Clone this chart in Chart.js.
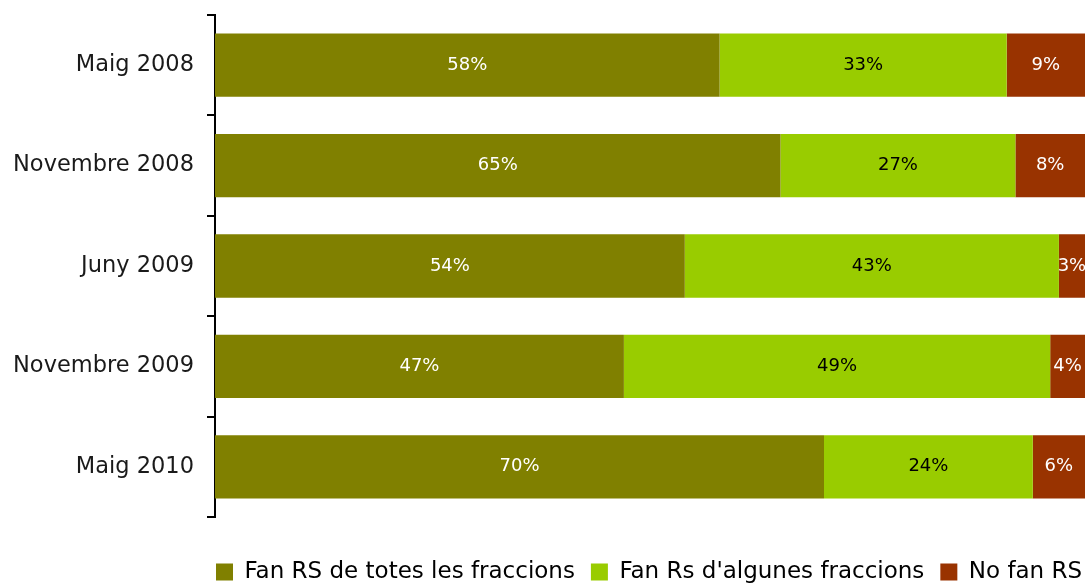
<!DOCTYPE html>
<html>
<head>
<meta charset="utf-8">
<script src="https://cdn.jsdelivr.net/npm/chart.js@4/dist/chart.umd.min.js"></script>
<style>
html,body{margin:0;padding:0;background:#fff;}
#wrap{width:1085px;height:584px;position:relative;}
</style>
</head>
<body>
<div id="wrap"><canvas id="c"></canvas></div>
<script>
const categories = ["Maig 2008", "Novembre 2008", "Juny 2009", "Novembre 2009", "Maig 2010"];
const seriesNames = ["Fan RS de totes les fraccions", "Fan Rs d'algunes fraccions", "No fan RS"];
const totes = [58, 65, 54, 47, 70];
const algunes = [33, 27, 43, 49, 24];
const noFan = [9, 8, 3, 4, 6];

const FONT = "'DejaVu Sans', sans-serif";
const LEGEND_PAD = 16;

const labelPlugin = {
  id: 'barLabels',
  afterDatasetsDraw(chart) {
    const ctx = chart.ctx;
    ctx.save();
    ctx.font = "18px " + FONT;
    ctx.textAlign = 'center';
    ctx.textBaseline = 'middle';
    chart.data.datasets.forEach((ds, i) => {
      const meta = chart.getDatasetMeta(i);
      meta.data.forEach((el, j) => {
        const p = el.getCenterPoint();
        ctx.fillStyle = ds.labelColor;
        ctx.fillText(ds.data[j] + '%', p.x, p.y);
      });
    });
    ctx.restore();
  }
};

// start the legend under the plot area (as in the original)
const legendAlignPlugin = {
  id: 'legendAlign',
  afterLayout(chart) {
    const lg = chart.legend;
    if (lg) {
      lg.left = chart.chartArea.left + 1 - LEGEND_PAD;
      lg.right = lg.left + lg.width;
    }
  }
};

new Chart(document.getElementById('c'), {
  type: 'bar',
  data: {
    labels: categories,
    datasets: [
      {label: seriesNames[0], data: totes, backgroundColor: '#808000', labelColor: '#ffffff'},
      {label: seriesNames[1], data: algunes, backgroundColor: '#99cc00', labelColor: '#000000'},
      {label: seriesNames[2], data: noFan, backgroundColor: '#993300', labelColor: '#ffffff'}
    ]
  },
  options: {
    indexAxis: 'y',
    responsive: true,
    maintainAspectRatio: false,
    animation: false,
    layout: {padding: {top: 15, right: 0, left: 0, bottom: -9.5}},
    datasets: {bar: {categoryPercentage: 1, barPercentage: 0.63, borderWidth: 0}},
    scales: {
      x: {
        stacked: true, min: 0, max: 100,
        display: true,
        ticks: {display: false},
        grid: {display: false},
        border: {display: false},
        afterFit(s) { s.height = 27.5; s.paddingLeft = 0; s.paddingRight = 0; }
      },
      y: {
        stacked: true,
        ticks: {color: '#1a1a1a', font: {family: FONT, size: 22.5}, padding: 13, autoSkip: false},
        grid: {drawOnChartArea: false, tickLength: 8, color: '#000', lineWidth: 2, offset: true},
        border: {display: true, color: '#000', width: 2},
        afterFit(s) { s.width = 215; s.paddingTop = 0; s.paddingBottom = 0; }
      }
    },
    plugins: {
      tooltip: {enabled: false},
      legend: {
        position: 'bottom',
        align: 'start',
        fullSize: true,
        labels: {
          color: '#000',
          font: {family: FONT, size: 23},
          boxWidth: 17, boxHeight: 17,
          padding: LEGEND_PAD
        }
      }
    }
  },
  plugins: [labelPlugin, legendAlignPlugin]
});
</script>
</body>
</html>
